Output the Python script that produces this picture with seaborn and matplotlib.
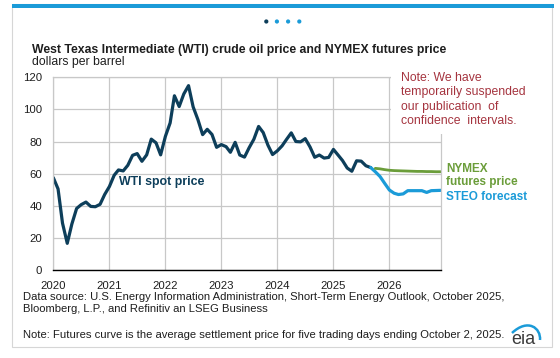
import pandas as pd
import matplotlib
matplotlib.use("Agg")
import matplotlib.pyplot as plt
from matplotlib.patches import Rectangle, Circle, PathPatch
from matplotlib.path import Path
import seaborn as sns

W, H = 560, 358

# monthly WTI spot price, Jan 2020 - Sep 2025 (dollars per barrel)
spot_start = "2020-01-01"
wti_spot = [
    57.5, 50.5, 29.2, 16.6, 28.6, 38.3, 40.7, 42.3, 39.6, 39.4, 40.9, 47.0,
    52.0, 59.0, 62.3, 61.7, 65.2, 71.4, 72.5, 67.7, 71.7, 81.5, 79.2, 71.7,
    83.2, 91.6, 108.5, 101.8, 109.6, 114.8, 101.6, 93.7, 84.3, 87.6, 84.4, 76.4,
    78.1, 76.8, 73.3, 79.5, 71.6, 70.3, 76.1, 81.4, 89.4, 85.6, 77.7, 71.9,
    74.2, 77.3, 81.3, 85.4, 80.0, 79.8, 81.8, 76.7, 70.2, 71.6, 69.7, 70.1,
    75.1, 71.5, 68.2, 63.5, 61.5, 68.0, 67.8, 64.9, 63.8,
]

# STEO forecast, Sep 2025 - Dec 2026
steo_start = "2025-09-01"
steo_forecast = [63.8, 61.2, 58.2, 54.0, 49.8, 47.8, 47.0, 47.4, 49.4, 49.4,
                 49.4, 49.4, 48.3, 49.4, 49.5, 49.6]

# NYMEX futures curve, Oct 2025 - Dec 2026
nymex_start = "2025-10-01"
nymex_futures = [63.3, 63.0, 62.5, 62.1, 61.9, 61.8, 61.7, 61.6, 61.5, 61.4,
                 61.4, 61.3, 61.3, 61.2, 61.2]

year_ticks = [2020, 2021, 2022, 2023, 2024, 2025, 2026]
y_ticks = [0, 20, 40, 60, 80, 100, 120]

NAVY = "#0d3e5a"
BLUE = "#1b9bd8"
GREEN = "#6b9d3a"
RED = "#a5343f"
GRID = "#c8c8c8"
TXT = "#1e1e1e"


def series(start, values):
    return pd.DataFrame({"date": pd.date_range(start, periods=len(values), freq="MS"),
                         "price": values})


def fx(px):
    return px / W


def fy(py):
    return 1 - py / H


sns.set_style("white")
plt.rcParams["font.family"] = ["Liberation Sans", "DejaVu Sans"]

fig = plt.figure(figsize=(W / 100, H / 100), dpi=100)
ax = fig.add_axes([fx(53.3), fy(270), fx(440.6) - fx(53.3), fy(77.3) - fy(270)])

sns.lineplot(data=series(spot_start, wti_spot), x="date", y="price",
             color=NAVY, lw=2.3, ax=ax)
sns.lineplot(data=series(steo_start, steo_forecast), x="date", y="price",
             color=BLUE, lw=2.3, ax=ax)
sns.lineplot(data=series(nymex_start, nymex_futures), x="date", y="price",
             color=GREEN, lw=2.0, ax=ax)

ax.set_xlim(pd.Timestamp("2020-01-01"), pd.Timestamp("2026-12-01"))
ax.set_ylim(0, 120)
ax.set_xticks([pd.Timestamp(f"{y}-01-01") for y in year_ticks])
ax.set_xticklabels([str(y) for y in year_ticks])
ax.set_yticks(y_ticks)
ax.set_xlabel("")
ax.set_ylabel("")
ax.grid(True, color=GRID, lw=0.9)
ax.set_axisbelow(True)
ax.tick_params(axis="x", direction="out", length=4, width=0.8, color="black",
               pad=4, labelsize=8.2, labelcolor=TXT)
ax.tick_params(axis="y", length=0, pad=8, labelsize=8.2, labelcolor=TXT)
for side in ["left", "top", "right"]:
    ax.spines[side].set_color(GRID)
    ax.spines[side].set_linewidth(0.9)
ax.spines["bottom"].set_color("black")
ax.spines["bottom"].set_linewidth(1.0)

# overlay in pixel coordinates for the card decorations and text
ov = fig.add_axes([0, 0, 1, 1], zorder=5)
ov.set_xlim(0, W)
ov.set_ylim(H, 0)
ov.axis("off")
ov.patch.set_alpha(0)

ov.add_patch(Rectangle((12, 4), 540, 343, fill=False, ec="#d6d6d6", lw=0.8))
ov.add_patch(Rectangle((12, 4), 542, 3.6, color=BLUE, lw=0))
for i, cx in enumerate([266.3, 276.9, 288.1, 299.3]):
    ov.add_patch(Circle((cx, 21.5), 2.1, color=NAVY if i == 0 else BLUE, lw=0))

ov.text(32.5, 52.5, "West Texas Intermediate (WTI) crude oil price and NYMEX futures price",
        fontsize=8.85, fontweight="bold", color=TXT, va="baseline")
ov.text(32.5, 64.5, "dollars per barrel", fontsize=8.85, color=TXT, va="baseline")

# white box holding the note (covers the top-right corner of the plot)
ov.add_patch(Rectangle((391, 70), 60, 63.5, color="white", lw=0))
note = ["Note: We have", "temporarily suspended", "our publication  of",
        "confidence  intervals."]
for i, line in enumerate(note):
    ov.text(400.7, 80.7 + i * 14.5, line, fontsize=8.8, color=RED, va="baseline")

ov.text(119, 185.5, "WTI spot price", fontsize=8.9, fontweight="bold", color=NAVY,
        va="baseline")
ov.text(446, 172.5, "NYMEX", fontsize=8.5, fontweight="bold", color=GREEN, va="baseline")
ov.text(446, 185.5, "futures price", fontsize=8.5, fontweight="bold", color=GREEN,
        va="baseline")
ov.text(446, 200.5, "STEO forecast", fontsize=8.5, fontweight="bold", color=BLUE,
        va="baseline")

foot = 8.1
ov.text(23, 299.5, "Data source: U.S. Energy Information Administration, Short-Term "
        "Energy Outlook, October 2025,", fontsize=foot, color=TXT, va="baseline")
ov.text(23, 311.5, "Bloomberg, L.P., and Refinitiv an LSEG Business", fontsize=foot,
        color=TXT, va="baseline")
ov.text(23, 337.5, "Note: Futures curve is the average settlement price for five "
        "trading days ending October 2, 2025.", fontsize=foot, color=TXT, va="baseline")

# eia logo
ov.text(511, 344, "eia", fontsize=13, color="#3b3b3b", va="baseline")
swoosh = Path([(512, 333), (528, 318), (541, 328), (540, 340)],
              [Path.MOVETO, Path.CURVE4, Path.CURVE4, Path.CURVE4])
ov.add_patch(PathPatch(swoosh, fill=False, ec=BLUE, lw=1.8))

fig.savefig("out.png", dpi=100, facecolor="white")
